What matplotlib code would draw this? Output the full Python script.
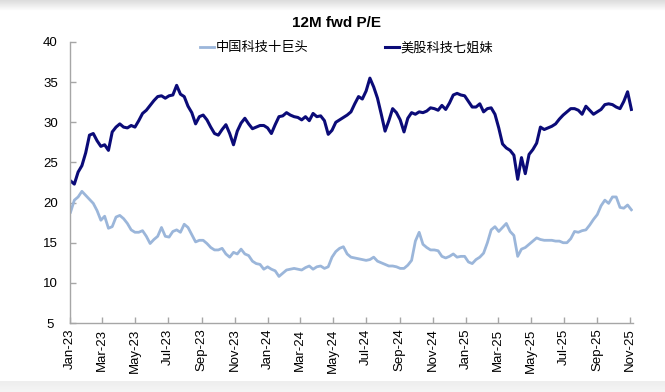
import matplotlib
matplotlib.use("Agg")
import matplotlib.pyplot as plt
import matplotlib.dates as mdates
import numpy as np
import pandas as pd

# ---------------- data ----------------
start_date = "2023-01-02"
n_weeks = 149
dates = pd.date_range(start_date, periods=n_weeks, freq="7D")

series_names = ["中国科技十巨头", "美股科技七姐妹"]

china_top10 = [
    18.8, 20.3, 20.7, 21.4, 20.9, 20.4, 19.9, 19.0, 17.8, 18.3,
    16.8, 17.0, 18.2, 18.4, 18.0, 17.4, 16.6, 16.3, 16.3, 16.5,
    15.8, 14.9, 15.4, 15.8, 16.9, 15.8, 15.7, 16.4, 16.6, 16.3,
    17.3, 16.9, 16.0, 15.1, 15.3, 15.3, 14.9, 14.4, 14.1, 14.1,
    14.3, 13.6, 13.2, 13.8, 13.6, 14.2, 13.6, 13.4, 12.7, 12.4,
    12.3, 11.7, 12.0, 11.7, 11.5, 10.8, 11.2, 11.6, 11.7, 11.8,
    11.7, 11.6, 11.9, 12.1, 11.7, 12.0, 12.1, 11.8, 12.0, 13.2,
    13.9, 14.3, 14.5, 13.6, 13.2, 13.1, 13.0, 12.9, 12.8, 12.9,
    13.2, 12.7, 12.5, 12.3, 12.1, 12.1, 12.0, 11.8, 11.8, 12.2,
    12.8, 15.2, 16.3, 14.8, 14.4, 14.1, 14.1, 14.0, 13.3, 13.1,
    13.3, 13.6, 13.2, 13.3, 13.3, 12.6, 12.4, 12.9, 13.2, 13.7,
    15.0, 16.6, 17.0, 16.4, 16.9, 17.4, 16.4, 15.9, 13.3, 14.2,
    14.4, 14.8, 15.2, 15.6, 15.4, 15.3, 15.3, 15.3, 15.2, 15.2,
    15.0, 15.0, 15.5, 16.4, 16.3, 16.5, 16.6, 17.2, 17.9, 18.5,
    19.6, 20.3, 19.9, 20.7, 20.7, 19.4, 19.3, 19.7, 19.1,
]

us_mag7 = [
    22.7, 22.3, 23.8, 24.6, 26.2, 28.4, 28.6, 27.7, 27.0, 27.2,
    26.5, 28.8, 29.4, 29.8, 29.4, 29.3, 29.6, 29.4, 30.2, 31.1,
    31.5, 32.1, 32.7, 33.2, 33.3, 33.0, 33.3, 33.4, 34.6, 33.5,
    33.2, 32.0, 31.2, 29.8, 30.7, 30.9, 30.3, 29.4, 28.6, 28.4,
    29.1, 29.7, 28.6, 27.2, 28.9, 29.9, 30.5, 29.8, 29.2, 29.4,
    29.6, 29.6, 29.3, 28.6, 29.7, 30.7, 30.8, 31.2, 30.9, 30.7,
    30.6, 30.3, 30.7, 30.2, 31.1, 30.7, 30.8, 30.2, 28.5, 29.0,
    30.0, 30.3, 30.6, 30.9, 31.3, 32.3, 33.2, 32.9, 33.9, 35.5,
    34.4, 33.0, 31.0, 28.9, 30.2, 31.7, 31.2, 30.3, 28.8, 30.5,
    31.2, 31.0, 31.3, 31.2, 31.4, 31.8, 31.7, 31.5, 32.1, 31.6,
    32.4, 33.4, 33.6, 33.4, 33.3, 32.6, 31.9, 31.9, 32.3, 31.3,
    31.7, 31.8, 31.0, 29.3, 27.3, 26.8, 26.5, 25.9, 22.9, 25.6,
    23.6, 26.0, 26.6, 27.4, 29.4, 29.1, 29.3, 29.5, 29.8, 30.4,
    30.9, 31.3, 31.7, 31.7, 31.5, 31.0, 32.0, 31.5, 31.0, 31.3,
    31.6, 32.2, 32.3, 32.2, 31.9, 31.7, 32.6, 33.8, 31.6,
]

title = "12M fwd P/E"
y_ticks = [5, 10, 15, 20, 25, 30, 35, 40]
x_start, x_end = "2023-01-01", "2025-11-06"

# ---------------- style ----------------
light_color = "#9bb6da"
dark_color = "#0b0b78"
axis_color = "#a6a6a6"
latin = "Liberation Sans"
cjk = ["Noto Sans CJK SC", "DejaVu Sans"]

fig = plt.figure(figsize=(6.65, 3.92), dpi=100)
fig.patch.set_facecolor("white")

# soft grey bands at top and bottom of the picture
grad_top = fig.add_axes([0, 0.972, 1, 0.028])
grad_top.imshow(np.linspace(0.86, 1.0, 50).reshape(-1, 1),
                aspect="auto", cmap="gray", vmin=0, vmax=1, extent=[0, 1, 0, 1])
grad_top.axis("off")
grad_bot = fig.add_axes([0, 0.0, 1, 0.028])
grad_bot.imshow(np.linspace(0.93, 0.96, 50).reshape(-1, 1),
                aspect="auto", cmap="gray", vmin=0, vmax=1, extent=[0, 1, 0, 1])
grad_bot.axis("off")

ax = fig.add_axes([70 / 665, 69 / 392, 563 / 665, 281 / 392])
ax.plot(dates, china_top10, color=light_color, lw=2.0, label=series_names[0], solid_joinstyle="round")
ax.plot(dates, us_mag7, color=dark_color, lw=2.2, label=series_names[1], solid_joinstyle="round")

ax.set_xlim(pd.Timestamp(x_start), pd.Timestamp(x_end))
ax.set_ylim(5, 40)
ax.set_yticks(y_ticks)
ax.xaxis.set_major_locator(mdates.MonthLocator(bymonth=[1, 3, 5, 7, 9, 11]))
ax.xaxis.set_major_formatter(mdates.DateFormatter("%b-%y"))

for s in ["top", "right"]:
    ax.spines[s].set_visible(False)
for s in ["left", "bottom"]:
    ax.spines[s].set_color(axis_color)
    ax.spines[s].set_linewidth(1.0)

ax.tick_params(axis="both", direction="in", length=4, color=axis_color, width=1)
ax.tick_params(axis="y", pad=14, labelsize=9.5)
ax.tick_params(axis="x", pad=4, labelsize=9.5)
for lab in ax.get_yticklabels():
    lab.set_fontfamily(latin)
    lab.set_horizontalalignment("center")
for lab in ax.get_xticklabels():
    lab.set_fontfamily(latin)
    lab.set_rotation(90)
    lab.set_horizontalalignment("center")

fig.text(336 / 665, (392 - 23) / 392, title, ha="center", va="center",
         fontsize=11, fontweight="bold", family=latin)

leg = ax.legend(loc="upper left", bbox_to_anchor=(0.209, 1.045), ncol=2, frameon=False,
                handlelength=1.1, handletextpad=0.1, columnspacing=5.8,
                prop={"family": cjk, "size": 9.5})

fig.savefig("out.png", dpi=100)
